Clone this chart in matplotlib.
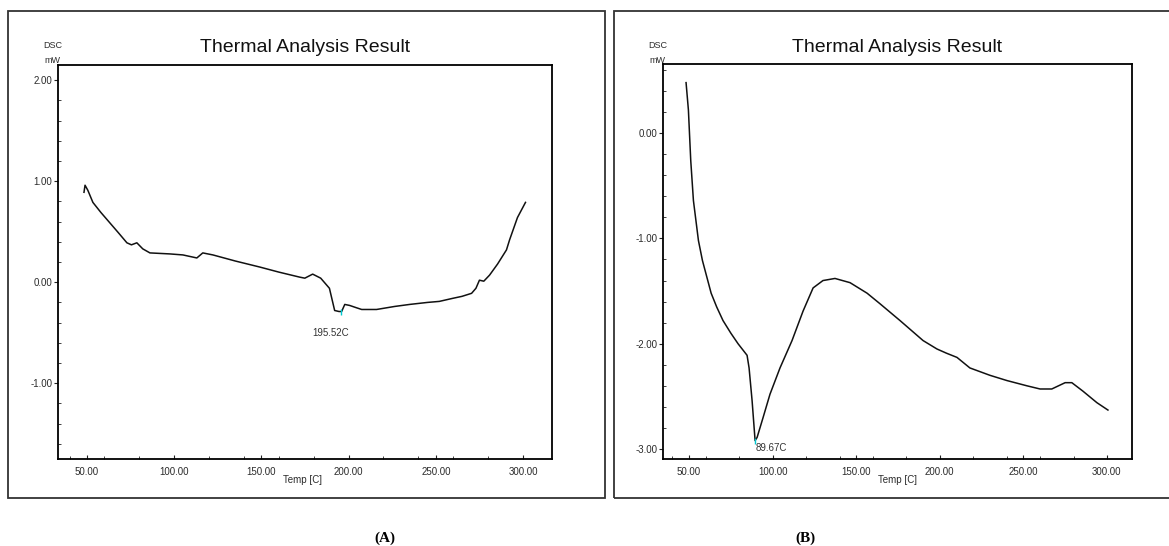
import matplotlib.pyplot as plt
from matplotlib.patches import Rectangle
from matplotlib.ticker import MultipleLocator, FixedLocator

# Panel A data
temp_a = [48.3, 48.9, 50.5, 53.4, 58.0, 63.0, 68.0, 72.9, 75.5, 78.6, 82.0, 86.1,
          97.5, 105.0, 113.0, 116.4, 122.2, 135.0, 149.1, 160.0, 172.0, 174.9,
          179.4, 184.0, 189.0, 192.0, 194.5, 196.0, 197.8, 200.6, 204.0, 207.5,
          216.0, 226.4, 235.0, 245.3, 252.0, 259.6, 265.0, 270.5, 273.0, 275.0,
          277.5, 280.8, 285.4, 290.5, 292.3, 296.8, 301.4]
dsc_a = [0.89, 0.96, 0.91, 0.79, 0.69, 0.59, 0.49, 0.39, 0.37, 0.39, 0.33, 0.29,
         0.28, 0.27, 0.24, 0.29, 0.27, 0.21, 0.15, 0.10, 0.05, 0.04,
         0.08, 0.04, -0.06, -0.28, -0.29, -0.29, -0.22, -0.23, -0.25, -0.27,
         -0.27, -0.24, -0.22, -0.20, -0.19, -0.16, -0.14, -0.11, -0.06, 0.02,
         0.01, 0.07, 0.18, 0.32, 0.42, 0.64, 0.79]

# Panel B data
temp_b = [48.2, 49.6, 51.0, 52.6, 55.6, 58.0, 63.2, 66.5, 70.3, 75.0, 79.3, 84.7,
          85.9, 87.7, 89.5, 90.7, 94.3, 98.4, 104.4, 111.6, 118.2, 124.2, 130.1,
          137.3, 146.3, 156.5, 164.2, 176.2, 190.0, 198.3, 204.0, 210.3, 218.0,
          230.0, 240.2, 252.2, 260.0, 267.0, 275.0, 279.0, 285.6, 294.0, 300.6]
dsc_b = [0.48, 0.22, -0.26, -0.64, -1.02, -1.21, -1.52, -1.65, -1.78, -1.90, -2.00, -2.11,
         -2.23, -2.54, -2.92, -2.89, -2.70, -2.48, -2.23, -1.97, -1.69, -1.47, -1.40,
         -1.38, -1.42, -1.52, -1.62, -1.78, -1.97, -2.05, -2.09, -2.13, -2.23,
         -2.30, -2.35, -2.40, -2.43, -2.43, -2.37, -2.37, -2.45, -2.56, -2.63]

peak_a = (195.52, -0.29)
peak_b = (89.67, -2.92)

W, H = 1169, 546
fig = plt.figure(figsize=(W / 100, H / 100), dpi=100)
plt.rcParams['font.family'] = ['Liberation Sans', 'DejaVu Sans']

# outer frames
fig.patches.append(Rectangle((8 / W, 1 - 498 / H), 597 / W, 487 / H, transform=fig.transFigure,
                             fill=False, edgecolor='#333333', linewidth=1.3))
fig.patches.append(Rectangle((614 / W, 1 - 498 / H), 570 / W, 487 / H, transform=fig.transFigure,
                             fill=False, edgecolor='#333333', linewidth=1.3))


def style_axes(ax, xlim, ylim, yticks):
    ax.set_xlim(*xlim)
    ax.set_ylim(*ylim)
    ax.xaxis.set_major_locator(FixedLocator([50, 100, 150, 200, 250, 300]))
    ax.xaxis.set_minor_locator(MultipleLocator(20))
    ax.yaxis.set_major_locator(FixedLocator(yticks))
    ax.yaxis.set_minor_locator(MultipleLocator(0.2))
    ax.set_xticklabels(['50.00', '100.00', '150.00', '200.00', '250.00', '300.00'])
    ax.set_yticklabels(['%.2f' % v for v in yticks])
    ax.tick_params(axis='both', which='both', labelsize=7, labelcolor='#2b2b2b', color='#222222')
    ax.tick_params(axis='x', which='major', direction='in', length=3, pad=6)
    ax.tick_params(axis='x', which='minor', direction='in', length=2)
    ax.tick_params(axis='y', which='major', direction='out', length=3, pad=1)
    ax.tick_params(axis='y', which='minor', direction='in', length=2)
    for s in ax.spines.values():
        s.set_linewidth(1.3)


# Panel A
ax1 = fig.add_axes([58 / W, 1 - 459 / H, 494 / W, 394 / H])
ax1.plot(temp_a, dsc_a, color='#111111', linewidth=1.1)
ax1.plot([peak_a[0]], [peak_a[1]], marker='|', color='#00c8d0', markersize=4)
ax1.text(189.7, -0.50, '%.2fC' % peak_a[0], fontsize=7, color='#333333', ha='center', va='center')
style_axes(ax1, (33.4, 316.6), (-1.75, 2.15), [-1.0, 0.0, 1.0, 2.0])

# Panel B
ax2 = fig.add_axes([663 / W, 1 - 459 / H, 469 / W, 395 / H])
ax2.plot(temp_b, dsc_b, color='#111111', linewidth=1.1)
ax2.plot([peak_b[0]], [peak_b[1]], marker='|', color='#00c8d0', markersize=4)
ax2.text(89.6, -2.99, '%.2fC' % peak_b[0], fontsize=7, color='#333333', ha='left', va='center')
style_axes(ax2, (34.4, 315.0), (-3.095, 0.657), [-3.0, -2.0, -1.0, 0.0])

# titles and axis captions
for cx, lx, tx in [(305, 43, 283), (897, 648, 878)]:
    fig.text(cx / W, 1 - 48 / H, 'Thermal Analysis Result', fontsize=14, ha='center', va='center',
             color='#111111')
    fig.text(lx / W, 1 - 46 / H, 'DSC', fontsize=6.5, ha='left', va='center', color='#2b2b2b')
    fig.text((lx + 1) / W, 1 - 60 / H, 'mW', fontsize=6.5, ha='left', va='center', color='#2b2b2b')
    fig.text(tx / W, 1 - 480 / H, 'Temp [C]', fontsize=7, ha='left', va='center', color='#2b2b2b')

fig.text(385 / W, 1 - 538 / H, '(A)', fontsize=11, fontweight='bold', family='Liberation Serif',
         ha='center', va='center')
fig.text(805 / W, 1 - 538 / H, '(B)', fontsize=11, fontweight='bold', family='Liberation Serif',
         ha='center', va='center')

fig.savefig('out.png', dpi=100)
